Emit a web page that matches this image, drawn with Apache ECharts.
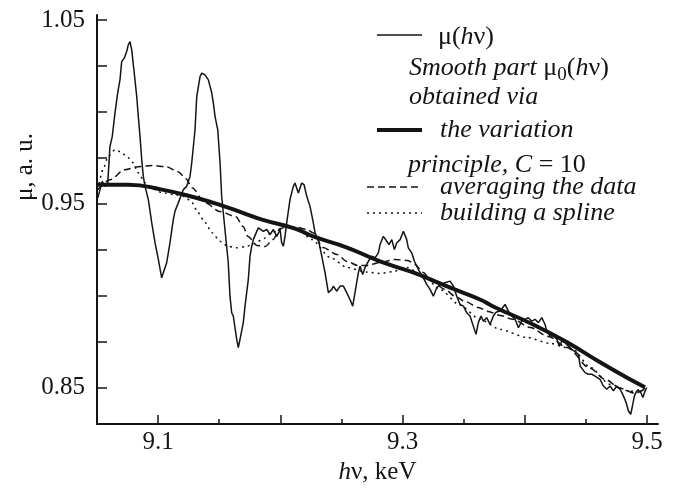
<!DOCTYPE html>
<html>
<head>
<meta charset="utf-8">
<script src="https://cdn.jsdelivr.net/npm/echarts@6/dist/echarts.min.js"></script>
<style>
  html, body { margin: 0; padding: 0; background: #fff; }
  #chart { width: 673px; height: 493px; }
</style>
</head>
<body>
<div id="chart"></div>
<script>
// measured curve mu(hv)
const muX = [9.0506, 9.0525, 9.0543, 9.0565, 9.0588, 9.0598, 9.0606, 9.0625, 9.0647, 9.0669, 9.0688, 9.0702, 9.0723, 9.0743, 9.0756, 9.0770, 9.0784, 9.0805, 9.0825, 9.0838, 9.0852, 9.0866, 9.0879, 9.0893, 9.0920, 9.0948, 9.0975, 9.1002, 9.1029, 9.1043, 9.1070, 9.1097, 9.1124, 9.1138, 9.1165, 9.1206, 9.1234, 9.1261, 9.1275, 9.1302, 9.1316, 9.1343, 9.1357, 9.1384, 9.1411, 9.1439, 9.1452, 9.1466, 9.1488, 9.1507, 9.1520, 9.1547, 9.1574, 9.1588, 9.1602, 9.1615, 9.1643, 9.1656, 9.1670, 9.1697, 9.1711, 9.1738, 9.1752, 9.1766, 9.1779, 9.1807, 9.1820, 9.1834, 9.1861, 9.1889, 9.1916, 9.1943, 9.1971, 9.1998, 9.2011, 9.2025, 9.2038, 9.2052, 9.2079, 9.2106, 9.2120, 9.2147, 9.2175, 9.2194, 9.2216, 9.2243, 9.2270, 9.2284, 9.2311, 9.2339, 9.2366, 9.2393, 9.2421, 9.2434, 9.2462, 9.2489, 9.2516, 9.2543, 9.2570, 9.2592, 9.2611, 9.2638, 9.2652, 9.2674, 9.2693, 9.2720, 9.2748, 9.2775, 9.2802, 9.2816, 9.2843, 9.2871, 9.2889, 9.2912, 9.2933, 9.2952, 9.2980, 9.3007, 9.3034, 9.3047, 9.3075, 9.3097, 9.3129, 9.3170, 9.3198, 9.3225, 9.3252, 9.3280, 9.3307, 9.3348, 9.3389, 9.3416, 9.3443, 9.3471, 9.3498, 9.3525, 9.3552, 9.3579, 9.3601, 9.3620, 9.3642, 9.3661, 9.3689, 9.3716, 9.3743, 9.3765, 9.3798, 9.3839, 9.3866, 9.3894, 9.3921, 9.3948, 9.3975, 9.4002, 9.4029, 9.4057, 9.4084, 9.4111, 9.4139, 9.4152, 9.4166, 9.4180, 9.4207, 9.4234, 9.4262, 9.4283, 9.4303, 9.4330, 9.4357, 9.4385, 9.4420, 9.4439, 9.4453, 9.4466, 9.4493, 9.4520, 9.4548, 9.4575, 9.4616, 9.4643, 9.4671, 9.4698, 9.4725, 9.4753, 9.4780, 9.4807, 9.4829, 9.4848, 9.4867, 9.4884, 9.4897, 9.4916, 9.4944, 9.4966, 9.4984, 9.4998];
const muY = [0.9531, 0.9576, 0.9621, 0.9594, 0.9612, 0.9721, 0.9811, 0.9866, 0.9993, 1.0102, 1.0174, 1.0273, 1.0292, 1.0328, 1.0364, 1.0382, 1.0337, 1.0210, 1.0083, 0.9974, 0.9866, 0.9739, 0.9648, 0.9594, 0.9522, 0.9395, 0.9286, 0.9196, 0.9096, 0.9105, 0.9178, 0.9286, 0.9413, 0.9458, 0.9504, 0.9576, 0.9594, 0.9648, 0.9721, 0.9902, 1.0083, 1.0192, 1.0210, 1.0201, 1.0174, 1.0102, 1.0047, 0.9974, 0.9902, 0.9721, 0.9540, 0.9359, 0.9178, 0.8996, 0.8906, 0.8888, 0.8761, 0.8716, 0.8761, 0.8852, 0.8942, 0.9087, 0.9214, 0.9268, 0.9304, 0.9349, 0.9368, 0.9359, 0.9349, 0.9359, 0.9332, 0.9359, 0.9322, 0.9359, 0.9286, 0.9268, 0.9322, 0.9395, 0.9522, 0.9594, 0.9612, 0.9558, 0.9612, 0.9603, 0.9540, 0.9485, 0.9395, 0.9341, 0.9304, 0.9214, 0.9123, 0.9015, 0.9033, 0.9051, 0.9023, 0.9051, 0.9051, 0.9015, 0.8978, 0.8942, 0.9015, 0.9123, 0.9159, 0.9114, 0.9152, 0.9186, 0.9214, 0.9205, 0.9232, 0.9277, 0.9322, 0.9295, 0.9277, 0.9304, 0.9250, 0.9286, 0.9304, 0.9349, 0.9304, 0.9259, 0.9232, 0.9186, 0.9141, 0.9096, 0.9060, 0.9033, 0.8996, 0.9042, 0.9060, 0.9069, 0.9078, 0.9051, 0.8996, 0.8951, 0.8942, 0.8906, 0.8888, 0.8833, 0.8788, 0.8852, 0.8888, 0.8860, 0.8879, 0.8842, 0.8888, 0.8909, 0.8915, 0.8951, 0.8915, 0.8888, 0.8870, 0.8824, 0.8860, 0.8870, 0.8879, 0.8860, 0.8870, 0.8852, 0.8879, 0.8888, 0.8842, 0.8806, 0.8779, 0.8779, 0.8761, 0.8724, 0.8752, 0.8743, 0.8724, 0.8707, 0.8689, 0.8679, 0.8616, 0.8607, 0.8580, 0.8571, 0.8571, 0.8561, 0.8543, 0.8507, 0.8489, 0.8507, 0.8480, 0.8507, 0.8489, 0.8453, 0.8417, 0.8371, 0.8353, 0.8408, 0.8453, 0.8480, 0.8480, 0.8444, 0.8480, 0.8498];

// smooth part: variation principle, C = 10
const varX = [9.0508, 9.0754, 9.1032, 9.1302, 9.1523, 9.1687, 9.1850, 9.2120, 9.2268, 9.2546, 9.2816, 9.3086, 9.3364, 9.3634, 9.3741, 9.4068, 9.4346, 9.4616, 9.4886, 9.4984];
const varY = [0.9603, 0.9603, 0.9576, 0.9533, 0.9489, 0.9451, 0.9413, 0.9364, 0.9321, 0.9261, 0.9185, 0.9125, 0.9049, 0.8978, 0.8940, 0.8842, 0.8745, 0.8636, 0.8534, 0.8500];

// smooth part: averaging the data
const avgX = [9.0508, 9.0606, 9.0729, 9.0836, 9.0950, 9.1065, 9.1163, 9.1228, 9.1277, 9.1384, 9.1506, 9.1637, 9.1695, 9.1736, 9.1809, 9.1875, 9.1940, 9.1997, 9.2055, 9.2137, 9.2218, 9.2267, 9.2349, 9.2464, 9.2546, 9.2636, 9.2709, 9.2816, 9.2939, 9.3045, 9.3102, 9.3168, 9.3241, 9.3348, 9.3430, 9.3511, 9.3618, 9.3700, 9.3798, 9.3904, 9.4043, 9.4191, 9.4346, 9.4534, 9.4657, 9.4780, 9.4902, 9.4992];
const avgY = [0.9576, 0.9630, 0.9685, 0.9701, 0.9707, 0.9701, 0.9674, 0.9636, 0.9587, 0.9505, 0.9457, 0.9429, 0.9375, 0.9321, 0.9272, 0.9266, 0.9304, 0.9364, 0.9375, 0.9370, 0.9359, 0.9342, 0.9261, 0.9223, 0.9185, 0.9163, 0.9163, 0.9179, 0.9196, 0.9190, 0.9168, 0.9125, 0.9076, 0.9033, 0.8995, 0.8967, 0.8935, 0.8913, 0.8891, 0.8870, 0.8826, 0.8777, 0.8717, 0.8603, 0.8543, 0.8495, 0.8467, 0.8495];

// smooth part: building a spline
const splX = [9.0508, 9.0549, 9.0590, 9.0647, 9.0688, 9.0745, 9.0795, 9.0836, 9.0893, 9.0934, 9.1032, 9.1138, 9.1220, 9.1277, 9.1326, 9.1384, 9.1441, 9.1506, 9.1572, 9.1637, 9.1719, 9.1793, 9.1850, 9.1932, 9.2038, 9.2137, 9.2259, 9.2407, 9.2546, 9.2709, 9.2816, 9.2922, 9.3037, 9.3168, 9.3307, 9.3470, 9.3634, 9.3798, 9.4011, 9.4207, 9.4395, 9.4534, 9.4698, 9.4862, 9.4992];
const splY = [0.9576, 0.9685, 0.9755, 0.9793, 0.9784, 0.9757, 0.9723, 0.9668, 0.9614, 0.9587, 0.9560, 0.9549, 0.9538, 0.9505, 0.9451, 0.9397, 0.9342, 0.9295, 0.9268, 0.9259, 0.9266, 0.9283, 0.9304, 0.9342, 0.9370, 0.9364, 0.9304, 0.9207, 0.9152, 0.9127, 0.9120, 0.9130, 0.9152, 0.9109, 0.9033, 0.8946, 0.8870, 0.8815, 0.8772, 0.8739, 0.8707, 0.8609, 0.8516, 0.8478, 0.8495];

// ticks
const xMajorTicks = [9.1, 9.2, 9.3, 9.4, 9.5];
const xMinorTicks = [9.15, 9.25, 9.35, 9.45];
const xLabels = [9.1, 9.3, 9.5];
const yTicks = [0.85, 0.875, 0.9, 0.925, 0.95, 0.975, 1.0, 1.025, 1.05];
const yLabels = [0.85, 0.95, 1.05];

const FONT = "'Liberation Serif', 'Times New Roman', serif";
const INK = '#141414';

const zip = (xs, ys) => xs.map((x, i) => [x, ys[i]]);

const chart = echarts.init(document.getElementById('chart'));

const baseX = {
  type: 'value', min: 9.05, max: 9.509,
  splitLine: { show: false }
};

// rich tokens: all top aligned so the subscript can be pushed down with padding
const legendRich = {
  n: { fontFamily: FONT, fontSize: 26, fill: INK, verticalAlign: 'top' },
  i: { fontFamily: FONT, fontSize: 26, fontStyle: 'italic', fill: INK, verticalAlign: 'top' },
  s: { fontFamily: FONT, fontSize: 19, fill: INK, verticalAlign: 'top', padding: [10, 0, 0, 0] }
};

function legendLine(x1, x2, y, width, dash) {
  return {
    type: 'line', shape: { x1, y1: y, x2, y2: y },
    style: { stroke: INK, lineWidth: width, lineDash: dash || null }
  };
}
function legendText(x, y, text) {
  return {
    type: 'text', x, y,
    style: { text, fill: INK, font: '26px ' + FONT, verticalAlign: 'middle', align: 'left', rich: legendRich }
  };
}

chart.setOption({
  animation: false,
  grid: { left: 97, right: 15, top: 15, bottom: 69 },
  xAxis: [
    Object.assign({}, baseX, {
      position: 'bottom',
      name: '{i|h}ν, keV', nameLocation: 'middle', nameGap: 34,
      nameTextStyle: { fontFamily: FONT, fontSize: 25, color: INK,
        rich: { i: { fontFamily: FONT, fontSize: 25, fontStyle: 'italic', color: INK } } },
      axisLine: { lineStyle: { color: INK, width: 2 } },
      axisTick: { inside: true, length: 9, customValues: xMajorTicks, lineStyle: { color: INK, width: 1.5 } },
      axisLabel: { customValues: xLabels, margin: 6, fontFamily: FONT, fontSize: 25, color: INK,
        formatter: v => v.toFixed(1) }
    }),
    Object.assign({}, baseX, {
      position: 'bottom',
      axisLine: { show: false },
      axisTick: { inside: true, length: 5, customValues: xMinorTicks, lineStyle: { color: INK, width: 1.5 } },
      axisLabel: { show: false }
    })
  ],
  yAxis: {
    type: 'value', min: 0.83, max: 1.0527,
    splitLine: { show: false },
    axisLine: { show: true, lineStyle: { color: INK, width: 2 } },
    axisTick: { show: true, inside: true, length: 10, customValues: yTicks, lineStyle: { color: INK, width: 1.5 } },
    axisLabel: { customValues: yLabels, margin: 12, fontFamily: FONT, fontSize: 25, color: INK,
      formatter: v => v.toFixed(2) }
  },
  graphic: [
    {
      type: 'text', x: 25, y: 167, rotation: Math.PI / 2,
      style: { text: 'μ, a. u.', font: '25px ' + FONT, fill: INK, align: 'center', verticalAlign: 'middle' }
    },
    legendLine(377, 422, 35, 1.5),
    legendText(438, 37, '{n|μ(}{i|h}{n|ν)}'),
    legendText(409, 70, '{i|Smooth part }{n|μ}{s|0}{n|(}{i|h}{n|ν)}'),
    legendText(409, 97, '{i|obtained via}'),
    legendLine(377, 422, 130, 4),
    legendText(440, 130, '{i|the variation}'),
    legendText(408, 165, '{i|principle, C}{n| = 10}'),
    legendLine(367, 422, 187, 1.5, [7, 4]),
    legendText(440, 187, '{i|averaging the data}'),
    legendLine(367, 422, 213, 1.5, [2, 4]),
    legendText(440, 213, '{i|building a spline}')
  ],
  series: [
    { name: 'mu', type: 'line', data: zip(muX, muY), showSymbol: false, silent: true,
      lineStyle: { color: INK, width: 1.5 } },
    { name: 'variation', type: 'line', data: zip(varX, varY), showSymbol: false, smooth: true, silent: true,
      lineStyle: { color: INK, width: 4 } },
    { name: 'averaging', type: 'line', data: zip(avgX, avgY), showSymbol: false, smooth: 0.3,
      smoothMonotone: 'x', silent: true,
      lineStyle: { color: INK, width: 1.5, type: [7, 4] } },
    { name: 'spline', type: 'line', data: zip(splX, splY), showSymbol: false, smooth: 0.25,
      smoothMonotone: 'x', silent: true,
      lineStyle: { color: INK, width: 1.5, type: [2, 4] } }
  ]
});
</script>
</body>
</html>
